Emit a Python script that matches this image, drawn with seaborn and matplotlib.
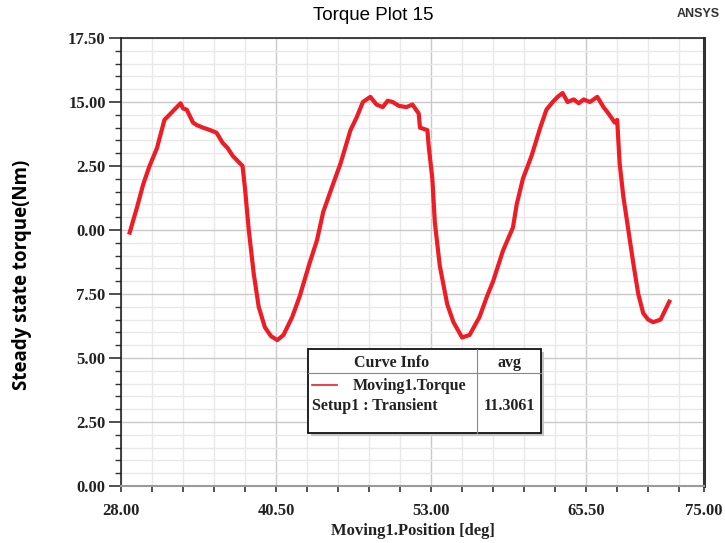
import numpy as np
import pandas as pd
import matplotlib
matplotlib.use("Agg")
from matplotlib import pyplot as plt
from matplotlib.patches import Rectangle
from matplotlib.lines import Line2D
import seaborn as sns

# position (deg) vs steady state torque (Nm)
position = [28.7, 29.0, 29.3, 29.8, 30.3, 30.9, 31.5, 32.1, 32.5, 32.8, 33.0, 33.3, 33.8,
            34.1, 34.6, 35.2, 35.7, 36.2, 36.6, 37.0, 37.8, 38.0, 38.3, 38.7, 39.1, 39.6,
            40.1, 40.6, 41.1, 41.8, 42.4, 43.2, 43.8, 44.3, 45.1, 45.7, 46.5, 47.0, 47.5,
            48.1, 48.6, 49.1, 49.5, 49.9, 50.4, 51.0, 51.5, 52.0, 52.1, 52.7, 52.8, 53.1,
            53.3, 53.7, 54.3, 54.8, 55.5, 56.1, 56.9, 57.5, 58.0, 58.8, 59.6, 59.9, 60.4,
            61.1, 61.8, 62.3, 62.8, 63.2, 63.6, 64.0, 64.5, 64.9, 65.3, 65.8, 66.4, 66.9,
            67.3, 67.8, 68.0, 68.2, 68.5, 68.9, 69.3, 69.7, 70.1, 70.5, 70.9, 71.5, 71.9,
            72.2]
torque = [9.9, 10.4, 10.9, 11.8, 12.5, 13.2, 14.3, 14.6, 14.8, 14.95, 14.75, 14.7, 14.2,
          14.1, 14.0, 13.9, 13.8, 13.4, 13.2, 12.9, 12.5, 11.6, 10.0, 8.3, 7.0, 6.2,
          5.85, 5.7, 5.9, 6.6, 7.4, 8.7, 9.6, 10.7, 11.8, 12.6, 13.9, 14.4, 15.0,
          15.2, 14.9, 14.8, 15.05, 15.0, 14.85, 14.8, 14.9, 14.55, 14.0, 13.9, 13.3, 12.0,
          10.3, 8.6, 7.1, 6.4, 5.8, 5.9, 6.6, 7.4, 8.0, 9.2, 10.1, 11.0, 12.0,
          12.9, 14.0, 14.7, 15.0, 15.2, 15.35, 15.0, 15.1, 14.95, 15.1, 15.0, 15.2, 14.8,
          14.55, 14.2, 14.3, 12.6, 11.3, 10.0, 8.7, 7.5, 6.75, 6.5, 6.4, 6.5, 6.9,
          7.2]

x_ticks = [28.0, 40.5, 53.0, 65.5, 75.0]
x_labels = ["28.00", "40.50", "53.00", "65.50", "75.00"]
y_ticks = [0.0, 2.5, 5.0, 7.5, 10.0, 12.5, 15.0, 17.5]
y_labels = ["0.00", "2.50", "5.00", "7.50", "0.00", "2.50", "15.00", "17.50"]

df = pd.DataFrame({"position": position, "torque": torque})

fig = plt.figure(figsize=(7.25, 5.43), dpi=100)
ax = fig.add_axes([121 / 725, 57 / 543, 583 / 725, 448 / 543])

sns.lineplot(data=df, x="position", y="torque", color="#ee1c25", linewidth=3.0, ax=ax)

ax.set_xlim(28, 75)
ax.set_ylim(0, 17.5)

serif_bold = dict(family="Liberation Serif", weight="bold", size=12, color="#222222")

ax.set_xticks(x_ticks)
ax.set_xticklabels(x_labels, **serif_bold)
ax.set_xticks(np.arange(30.5, 75, 2.5), minor=True)
ax.set_yticks(y_ticks)
ax.set_yticklabels(y_labels, **serif_bold)
ax.set_yticks(np.arange(0, 17.6, 0.5), minor=True)

ax.grid(which="minor", color="#e8e8e8", linewidth=1.0)
ax.grid(which="major", color="#c9c9c9", linewidth=1.0)
ax.set_axisbelow(True)

ax.tick_params(axis="y", which="major", length=9, width=1.2, color="#333333", pad=2)
ax.tick_params(axis="y", which="minor", length=4, width=1.0, color="#333333")
ax.tick_params(axis="x", which="both", length=4, width=1.2, color="#333333", pad=8)

for side in ["left", "top"]:
    ax.spines[side].set_color("#222222")
    ax.spines[side].set_linewidth(1.2)
ax.spines["right"].set_color("#333333")
ax.spines["right"].set_linewidth(2.2)
ax.spines["bottom"].set_color("#9a9a9a")
ax.spines["bottom"].set_linewidth(1.5)

ax.set_xlabel("Moving1.Position [deg]", fontfamily="Liberation Serif", fontweight="bold",
              fontsize=12, color="#222222", labelpad=3)
ax.set_ylabel("")
fig.text(22 / 725, 1 - 275 / 543, "Steady state torque(Nm)", rotation=90, ha="center",
         va="center", fontfamily="Open Sans", fontweight="bold", fontsize=13.5, color="black")

fig.text(373 / 725, 1 - 16 / 543, "Torque Plot 15", ha="center", va="center",
         fontfamily="Liberation Sans", fontsize=13.5, color="black")
fig.text(720 / 725, 1 - 14 / 543, "ANSYS", ha="right", va="center",
         fontfamily="Liberation Sans", fontweight="bold", fontsize=9, color="#333333")

# curve info box (in figure pixel coords)
def fx(px):
    return px / 725


def fy(py):
    return 1 - py / 543


shadow = Rectangle((fx(311), fy(436)), fx(233), 84 / 543, transform=fig.transFigure,
                   facecolor="#c4c4c4", edgecolor="none", zorder=5)
box = Rectangle((fx(308), fy(433)), fx(233), 84 / 543, transform=fig.transFigure,
                facecolor="white", edgecolor="#111111", linewidth=1.3, zorder=6)
fig.patches.extend([shadow, box])
fig.lines.append(Line2D([fx(477), fx(477)], [fy(349), fy(433)], transform=fig.transFigure,
                        color="#888888", linewidth=0.8, zorder=7))
fig.lines.append(Line2D([fx(308), fx(541)], [fy(373), fy(373)], transform=fig.transFigure,
                        color="#888888", linewidth=0.8, zorder=7))
fig.lines.append(Line2D([fx(312), fx(337)], [fy(385), fy(385)], transform=fig.transFigure,
                        color="#ee1c25", linewidth=1.2, zorder=7))

box_font = dict(family="Liberation Serif", weight="bold", size=11.5, color="#222222", zorder=8)
fig.text(fx(392), fy(363), "Curve Info", ha="center", va="center", **box_font)
fig.text(fx(509), fy(363), "avg", ha="center", va="center", **box_font)
fig.text(fx(353), fy(386), "Moving1.Torque", ha="left", va="center", **box_font)
fig.text(fx(312), fy(406), "Setup1 : Transient", ha="left", va="center", **box_font)
fig.text(fx(509), fy(406), "11.3061", ha="center", va="center", **box_font)

fig.savefig("out.png", dpi=100)
